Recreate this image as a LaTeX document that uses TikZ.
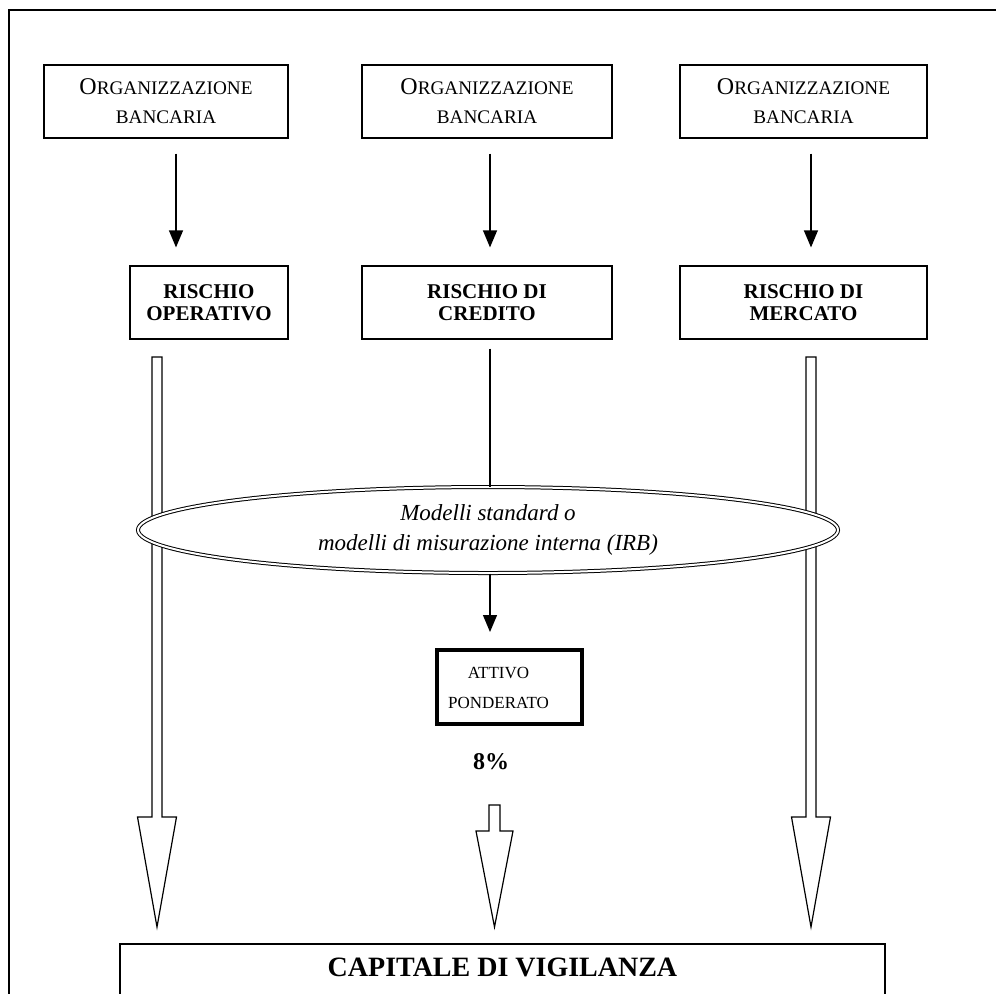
\documentclass[tikz,border=0pt]{standalone}
\usepackage{fontspec}
\setmainfont{Liberation Serif}
\usetikzlibrary{arrows.meta,shapes.geometric,calc}

\newcommand{\orgbank}{{\fontsize{12}{14.5}\selectfont O}RGANIZZAZIONE\\BANCARIA}
% hollow block arrow: from, to, shaft half width, head half width, head length
\newcommand{\hollowarrow}[5]{%
  \draw[hollow] let \p1=(#1), \p2=(#2) in
    (\x1-#3,\y1) -- (\x1-#3,\y2+#5) -- (\x1-#4,\y2+#5) -- (\x2,\y2)
    -- (\x1+#4,\y2+#5) -- (\x1+#3,\y2+#5) -- (\x1+#3,\y1) -- cycle;}

\begin{document}
\begin{tikzpicture}[
    x=0.5pt, y=-0.5pt,
    orgbox/.style={draw, line width=0.6pt, minimum height=36.5pt, inner sep=0pt, align=center, font=\fontsize{9.6}{14.5}\selectfont},
    riskbox/.style={draw, line width=0.6pt, minimum height=36.5pt, inner sep=0pt, align=center, font=\fontsize{10.5}{11}\selectfont\bfseries},
    arr/.style={-{Triangle[width=7pt,length=8.5pt]}, line width=0.6pt},
    hollow/.style={line width=0.6pt, fill=white},
    modelnode/.style={ellipse, draw, double, double distance=1pt, line width=0.5pt, fill=white, minimum width=350pt, minimum height=43pt, inner sep=0pt, align=center, font=\fontsize{11.5}{15}\selectfont\itshape}
]
\clip (0,0) rectangle (996,993);
\draw[line width=1pt] (9,1010) -- (9,10) -- (1010,10);

\node[orgbox, minimum width=122pt](org1) at (166, 101.5) {\orgbank};
\node[orgbox, minimum width=125pt](org2) at (487, 101.5) {\orgbank};
\node[orgbox, minimum width=123.5pt](org3) at (803.5, 101.5) {\orgbank};

\node[riskbox, minimum width=79pt](opr) at (209, 302.5) {RISCHIO\\OPERATIVO};
\node[riskbox, minimum width=125pt](cre) at (487, 302.5) {RISCHIO DI\\CREDITO};
\node[riskbox, minimum width=123.5pt](mer) at (803.5, 302.5) {RISCHIO DI\\MERCATO};

\draw[arr, shorten <=7.5pt, shorten >=9pt] ([xshift=5pt]org1.south) -- ([xshift=5pt]org1.south |- opr.north);
\draw[arr, shorten <=7.5pt, shorten >=9pt] ([xshift=1.5pt]org2.south) -- ([xshift=1.5pt]org2.south |- cre.north);
\draw[arr, shorten <=7.5pt, shorten >=9pt] ([xshift=3.75pt]org3.south) -- ([xshift=3.75pt]org3.south |- mer.north);

\coordinate (opr-out) at (157, 357);
\coordinate (opr-in) at (157, 927);
\coordinate (mer-out) at (811, 357);
\coordinate (mer-in) at (811, 927);
\coordinate (cre-out) at (494.5, 805);
\coordinate (cre-in) at (494.5, 927);

\hollowarrow{opr-out}{opr-in}{2.5pt}{9.75pt}{55pt}
\hollowarrow{mer-out}{mer-in}{2.5pt}{9.75pt}{55pt}

\node[modelnode](ell) at (488, 530) {Modelli standard o\\modelli di misurazione interna (IRB)};

\node[draw, line width=2pt, minimum width=72.5pt, minimum height=37pt, inner sep=0pt, font=\fontsize{8.5}{15}\selectfont](att) at (509.5, 687) {\begin{tabular}{@{}c@{\hspace{11pt}}}ATTIVO\\PONDERATO\end{tabular}};
\node[font=\fontsize{12}{14}\selectfont\bfseries](pct) at (491, 762) {8\%};

\draw[line width=0.6pt] ([xshift=1.5pt,yshift=-4.5pt]cre.south) -- ([xshift=1.5pt]cre.south |- ell.north);
\draw[arr, shorten >=8pt] ([xshift=1.5pt]cre.south |- ell.south) -- ([xshift=1.5pt]cre.south |- att.north);

\hollowarrow{cre-out}{cre-in}{2.75pt}{9.25pt}{48pt}

\node[draw, line width=0.75pt, anchor=north, minimum width=382.5pt, text height=10pt, text depth=60pt, inner ysep=6.5pt, font=\fontsize{14}{16}\selectfont\bfseries](cap) at (502.5, 943) {CAPITALE DI VIGILANZA};
\end{tikzpicture}
\end{document}
